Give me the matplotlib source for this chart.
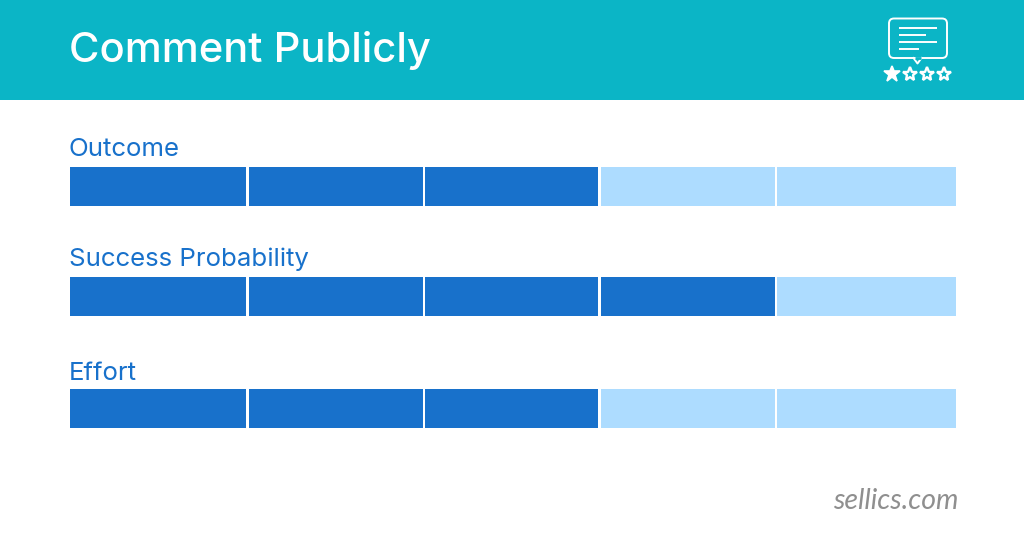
import matplotlib
matplotlib.use("Agg")
import matplotlib.pyplot as plt
from matplotlib.patches import FancyBboxPatch, Rectangle

# Chart content
title = "Comment Publicly"
categories = ["Outcome", "Success Probability", "Effort"]
scores = [3, 4, 3]
max_score = 5
footer = "sellics.com"

# Colours
TEAL = "#0bb5c6"
DARK = "#1871cb"
LIGHT = "#addcff"
GREY = "#8f8f8f"

# Layout in pixels
seg_left = [70, 249, 425, 601, 777]
seg_right = [246, 423, 598, 775, 956]
bar_top = [167, 277, 389]
bar_height = 39
label_y = [149, 259, 373]

fig = plt.figure(figsize=(10.24, 5.4), dpi=100)
ax = fig.add_axes([0, 0, 1, 1])
ax.set_xlim(0, 1024)
ax.set_ylim(540, 0)
ax.axis("off")

# Header band
ax.add_patch(Rectangle((0, 0), 1024, 100, color=TEAL, lw=0))
ax.text(69, 51, title, color="white", fontsize=30, fontweight="medium",
        family="Inter", va="center", ha="left")

# Rating bars
for name, score, top, ly in zip(categories, scores, bar_top, label_y):
    ax.text(69, ly, name, color=DARK, fontsize=18.6, family="Inter",
            va="center", ha="left")
    for i in range(max_score):
        col = DARK if i < score else LIGHT
        ax.barh(top + bar_height / 2, seg_right[i] - seg_left[i], height=bar_height,
                left=seg_left[i], color=col, lw=0)

ax.text(958, 501, footer, color=GREY, fontsize=20.5, family="Lato",
        style="italic", fontweight="normal", va="center", ha="right")

# Icon in the header: speech bubble with text lines and stars
ax.add_patch(FancyBboxPatch((889, 18.5), 58, 39.5, boxstyle="round,pad=0,rounding_size=5",
                            fc="none", ec="white", lw=1.4))
ax.plot([913.5, 917.5, 921.5], [58, 63.5, 58], color="white", lw=1.4)
ax.plot([914.5, 920.5], [58, 58], color=TEAL, lw=2, solid_capstyle="butt")
for x_end, y in zip([937, 926, 937, 919], [28, 35, 42, 49]):
    ax.plot([899, x_end], [y, y], color="white", lw=1.4, solid_capstyle="butt")
ax.plot([892], [74], marker="*", ms=12, color="white", mec="white", mew=1.2)
for x in [910, 927, 944]:
    ax.plot([x], [74], marker="*", ms=10, mfc="none", mec="white", mew=1.7)

fig.savefig("out.png", dpi=100)
